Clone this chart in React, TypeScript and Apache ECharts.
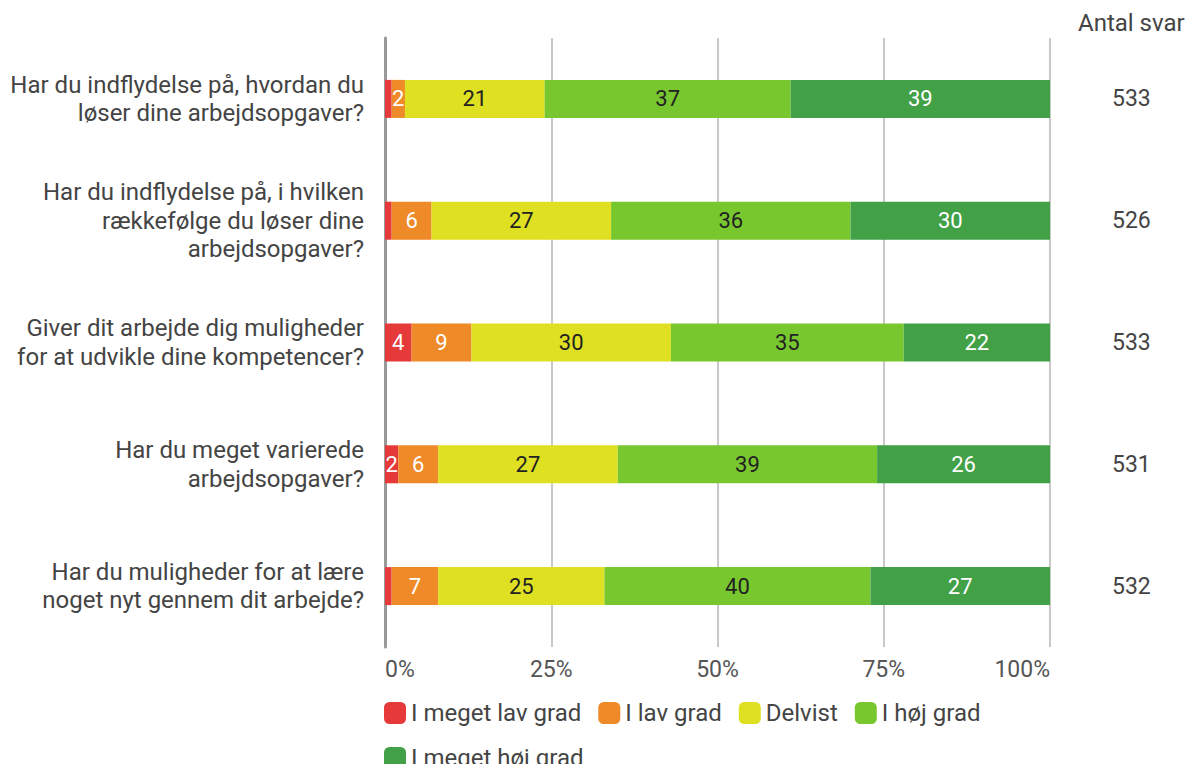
import React, { useEffect, useRef } from "react";
import * as echarts from "echarts";

const questions = [
  "Har du indflydelse på, hvordan du\nløser dine arbejdsopgaver?",
  "Har du indflydelse på, i hvilken\nrækkefølge du løser dine\narbejdsopgaver?",
  "Giver dit arbejde dig muligheder\nfor at udvikle dine kompetencer?",
  "Har du meget varierede\narbejdsopgaver?",
  "Har du muligheder for at lære\nnoget nyt gennem dit arbejde?",
];
const antalSvar = ["533", "526", "533", "531", "532"];
const seriesNames = ["I meget lav grad", "I lav grad", "Delvist", "I høj grad", "I meget høj grad"];
const meget_lav = [1, 1, 4, 2, 1];
const lav = [2, 6, 9, 6, 7];
const delvist = [21, 27, 30, 27, 25];
const hoej = [37, 36, 35, 39, 40];
const meget_hoej = [39, 30, 22, 26, 27];
const tickLabels = ["0%", "25%", "50%", "75%", "100%"];

const colors = ["#E5393A", "#EE8A27", "#DFE021", "#79C72F", "#42A047"];
const labelColors = ["#ffffff", "#ffffff", "#222222", "#222222", "#ffffff"];

export default function App() {
  const ref = useRef<HTMLDivElement>(null);
  useEffect(() => {
    if (!ref.current) return;
    const chart = echarts.init(ref.current, undefined, { renderer: "svg" });
    const values = [meget_lav, lav, delvist, hoej, meget_hoej];
    const font = "Roboto";
    chart.setOption({
      animation: false,
      textStyle: { fontFamily: font },
      grid: { left: 385, right: 144, top: 38, bottom: 125, containLabel: false },
      xAxis: {
        type: "value",
        min: 0,
        max: 100,
        interval: 25,
        axisLine: { show: false },
        axisTick: { show: false },
        splitLine: { show: true, lineStyle: { color: "#c8c8c8", width: 2 } },
        axisLabel: {
          fontFamily: font,
          fontSize: 23,
          color: "#555555",
          margin: 11,
          alignMinLabel: "left",
          alignMaxLabel: "right",
          formatter: (v: number) => tickLabels[Math.round(v / 25)],
        },
      },
      yAxis: [
        {
          type: "category",
          data: questions,
          inverse: true,
          axisLine: { show: true, lineStyle: { color: "#999999", width: 3 } },
          axisTick: { show: false },
          axisLabel: {
            fontFamily: font,
            fontSize: 24,
            color: "#444444",
            margin: 21,
            align: "right",
            lineHeight: 28.5,
          },
        },
        {
          type: "category",
          data: antalSvar,
          inverse: true,
          position: "right",
          axisLine: { show: false },
          axisTick: { show: false },
          axisLabel: {
            fontFamily: font,
            fontSize: 23,
            color: "#444444",
            margin: 62,
          },
        },
      ],
      legend: {
        left: 384,
        top: 699,
        padding: 0,
        width: 640,
        itemWidth: 22,
        itemHeight: 22,
        itemGap: 17,
        icon: "roundRect",
        textStyle: { fontFamily: font, fontSize: 24, color: "#444444", lineHeight: 28 },
        data: seriesNames,
      },
      graphic: [
        {
          type: "text",
          left: 1078,
          top: 11,
          style: { text: "Antal svar", fontFamily: font, fontSize: 24, fill: "#444444" },
        },
      ],
      series: seriesNames.map((name, i) => ({
        name,
        type: "bar",
        stack: "total",
        barWidth: 38,
        yAxisIndex: 0,
        itemStyle: { color: colors[i] },
        label: {
          show: true,
          position: "inside",
          fontFamily: font,
          fontSize: 22,
          color: labelColors[i],
          formatter: (p: any) => (p.value < 2 ? "" : String(p.value)),
        },
        data: values[i],
      })),
    });
    return () => chart.dispose();
  }, []);
  return <div ref={ref} style={{ width: 1194, height: 772, margin: -8 }} />;
}
